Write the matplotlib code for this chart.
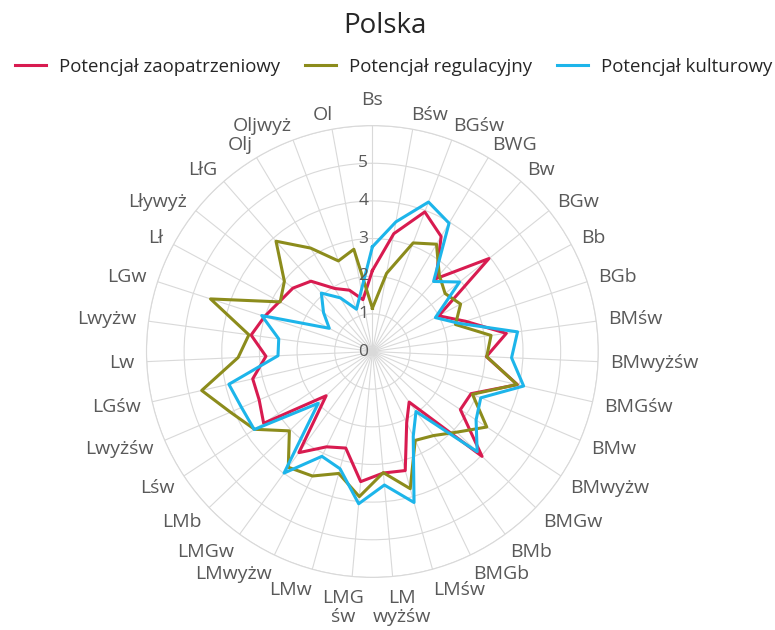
import numpy as np
import matplotlib.pyplot as plt
from matplotlib.transforms import offset_copy

plt.rcParams['font.family'] = ['Open Sans', 'DejaVu Sans']

# kategorie krajobrazu (kolejnosc zgodnie z ruchem wskazowek zegara)
kategorie = [
    "Bs", "Bśw", "BGśw", "BWG", "Bw", "BGw", "Bb", "BGb", "BMśw", "BMwyżśw",
    "BMGśw", "BMw", "BMwyżw", "BMGw", "BMb", "BMGb", "LMśw", "LM\nwyżśw",
    "LMG\nśw", "LMw", "LMwyżw", "LMGw", "LMb", "Lśw", "Lwyżśw", "LGśw", "Lw",
    "Lwyżw", "LGw", "Lł", "Lływyż", "LłG", "Olj", "Oljwyż", "Ol",
]

zaopatrzeniowy = [
    2.15, 3.18, 3.96, 3.56, 2.57, 3.96, 2.0, 2.6, 3.59, 3.03,
    3.95, 2.85, 2.8, 4.03, 1.66, 2.1, 3.28, 3.24,
    3.47, 2.66, 2.81, 3.32, 1.70, 3.46, 3.27, 3.26, 2.83,
    3.25, 3.01, 2.8, 2.70, 2.48, 1.95, 1.74, 1.40,
]
regulacyjny = [
    1.15, 2.11, 3.08, 3.32, 2.70, 2.47, 2.66, 2.32, 3.18, 3.04,
    3.94, 2.89, 3.64, 3.1, 2.76, 2.62, 3.78, 3.23,
    3.87, 3.36, 3.67, 3.80, 3.05, 3.75, 4.1, 4.65, 3.57,
    3.31, 4.52, 2.78, 2.99, 3.89, 3.20, 2.57, 2.76,
]
kulturowy = [
    2.78, 3.50, 4.24, 3.97, 2.47, 2.96, 1.90, 2.42, 3.89, 3.70,
    4.12, 3.13, 3.3, 3.85, 1.97, 2.5, 4.16, 3.56,
    4.06, 3.23, 3.09, 3.99, 1.99, 3.76, 3.78, 3.91, 2.51,
    2.51, 3.09, 1.30, 1.66, 2.06, 1.66, 1.20, 1.65,
]

serie = [
    (zaopatrzeniowy, "#D81B50", "Potencjał zaopatrzeniowy"),
    (regulacyjny, "#8C8C1C", "Potencjał regulacyjny"),
    (kulturowy, "#1DB5EA", "Potencjał kulturowy"),
]

katy = np.linspace(0, 2 * np.pi, len(kategorie), endpoint=False)
R_MAX = 6

fig = plt.figure(figsize=(7.75, 6.3), dpi=100)
ax = fig.add_axes([0.189, 0.0833, 0.583, 0.7175], projection="polar")
ax.set_theta_offset(np.pi / 2)
ax.set_theta_direction(-1)

for wartosci, kolor, nazwa in serie:
    ax.plot(np.append(katy, katy[0]), np.append(wartosci, wartosci[0]),
            color=kolor, lw=2.2, label=nazwa, zorder=3)

ax.set_ylim(0, R_MAX)
ax.set_yticks(range(1, R_MAX + 1))
ax.set_yticklabels([])
ax.set_xticks(katy)
ax.set_xticklabels([])
ax.grid(color="#d9d9d9", lw=0.8)
ax.spines["polar"].set_color("#d9d9d9")
ax.spines["polar"].set_linewidth(0.8)

# etykiety kategorii: rog tekstu przy zewnetrznym okregu
for kat, nazwa in zip(katy, kategorie):
    s, c = np.sin(kat), np.cos(kat)
    h = 19 * (nazwa.count("\n") + 1)
    if abs(s) < 0.1:
        ha = "center"
        dx = 105 * s
        odstep = 16 if c > 0 else 12
    else:
        ha = "left" if s > 0 else "right"
        dx = np.sign(s) * (12 * abs(s) - 4 * (1 - abs(s)))
        odstep = 5 if c > 0 else 12
    dy = c * (h / 2 + odstep)
    tr = offset_copy(ax.transData, fig=fig, x=dx, y=dy, units="dots")
    ax.text(kat, R_MAX, nazwa, transform=tr, ha=ha, va="center",
            multialignment="center", fontsize=14, color="#595959",
            linespacing=1.1)

# opisy osi promieniowej przy pionowej osi
przesun = offset_copy(ax.transData, fig=fig, x=-3, y=0, units="points")
for r in range(R_MAX):
    ax.text(0, r, str(r), transform=przesun, ha="right", va="center",
            fontsize=12.5, color="#595959", zorder=4)

fig.text(0.497, 1 - 26 / 630, "Polska", ha="center", va="center",
         fontsize=20, color="#262626")
fig.legend(loc="center", bbox_to_anchor=(0.508, 1 - 67 / 630), ncol=3,
           frameon=False, fontsize=13.4, handlelength=1.7, handletextpad=0.7,
           columnspacing=1.3, labelcolor="#262626")

fig.savefig("out.png", dpi=100)
